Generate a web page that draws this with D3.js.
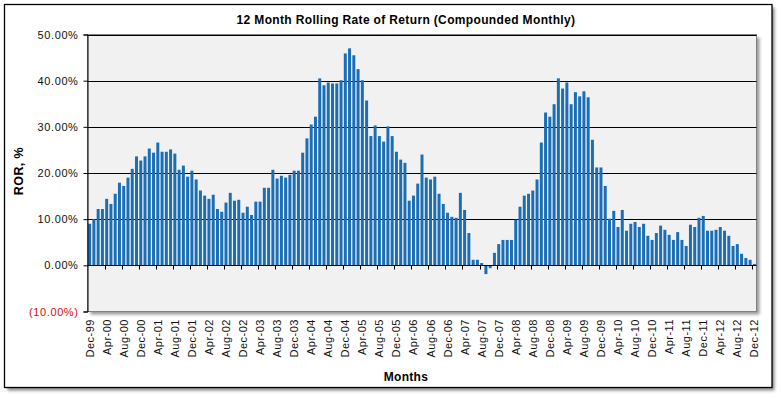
<!DOCTYPE html>
<html>
<head>
<meta charset="utf-8">
<script src="https://cdn.jsdelivr.net/npm/d3@7"></script>
<style>
  body { margin: 0; background: #fff; }
  text { font-family: "Liberation Sans", Arial, sans-serif; }
</style>
</head>
<body>
<div id="chart"></div>
<script>
// 12 month rolling ROR, one bar per month, Dec-99 .. Dec-12

const monthNames = ["Jan","Feb","Mar","Apr","May","Jun","Jul","Aug","Sep","Oct","Nov","Dec"];

// category labels, built from month + 2 digit year
let months = ["Dec-99"];
for (let yr = 0; yr <= 12; yr++) {
    for (let m of monthNames) {
        months.push(m + "-" + String(yr).padStart(2, "0"));
    }
}

const ror = [
    9.0, 10.0, 12.2, 12.2, 14.4, 13.3, 15.5, 17.9, 17.2, 19.0, 20.9, 23.6,
    22.7, 23.6, 25.3, 24.4, 26.6, 24.6, 24.6, 25.1, 24.2, 20.7, 21.6, 19.2,
    20.5, 18.6, 16.2, 15.1, 14.4, 15.3, 12.2, 11.6, 13.6, 15.7, 14.0, 14.2,
    11.4, 12.7, 10.9, 13.8, 13.8, 16.8, 16.8, 20.7, 18.8, 19.4, 19.0, 19.6,
    20.5, 20.5, 24.4, 27.5, 30.5, 32.2, 40.5, 39.0, 39.6, 39.4, 39.4, 40.1,
    45.9, 47.0, 45.5, 42.5, 40.1, 35.7, 28.0, 30.3, 28.0, 26.8, 30.1, 28.0,
    24.6, 22.9, 22.2, 14.0, 15.1, 17.7, 24.0, 19.0, 18.6, 19.2, 15.5, 13.3,
    11.4, 10.5, 10.3, 15.7, 12.0, 7.0, 1.2, 1.2, 0.5, -1.9, -0.6, 2.7,
    4.6, 5.5, 5.5, 5.5, 9.9, 12.7, 15.1, 15.5, 16.2, 18.6, 26.6, 33.1,
    32.2, 34.9, 40.5, 38.3, 39.6, 34.9, 37.5, 36.6, 37.7, 36.4, 27.2, 21.2,
    21.2, 17.2, 10.1, 11.8, 8.3, 12.0, 7.5, 9.0, 9.4, 8.3, 9.0, 6.4,
    5.5, 7.0, 8.6, 7.7, 6.6, 5.5, 7.2, 5.5, 4.2, 8.8, 8.3, 10.3,
    10.7, 7.5, 7.5, 7.7, 8.3, 7.5, 6.4, 4.2, 4.6, 2.5, 1.6, 1.2,
    0.3
];

const yTicks = [-10, 0, 10, 20, 30, 40, 50];

const width = 782, height = 398;
const plot = { left: 87.5, right: 756.5, top: 34.5, bottom: 311.5 };

const svg = d3.select("#chart")
    .append("svg")
    .attr("width", width)
    .attr("height", height);

const defs = svg.append("defs");
defs.append("filter")
    .attr("id", "shadow")
    .attr("x", "-5%").attr("y", "-5%")
    .attr("width", "110%").attr("height", "110%")
    .append("feGaussianBlur")
    .attr("stdDeviation", 1.5);

// outer chart frame with shadow
svg.append("rect")
    .attr("x", 7.5).attr("y", 7.5)
    .attr("width", 767).attr("height", 383)
    .attr("fill", "#8a8a8a")
    .attr("filter", "url(#shadow)");
svg.append("rect")
    .attr("x", 4.5).attr("y", 4.5)
    .attr("width", 767.5).attr("height", 383)
    .attr("fill", "#fff")
    .attr("stroke", "#000")
    .attr("stroke-width", 1.3);

let x = d3.scaleBand()
    .domain(months)
    .range([plot.left, plot.right])
    .paddingInner(0.3)
    .paddingOuter(0.15);

let y = d3.scaleLinear()
    .domain([-10, 50])
    .range([plot.bottom, plot.top]);

// plot area with shadow
svg.append("rect")
    .attr("x", plot.left + 3).attr("y", plot.top + 3)
    .attr("width", plot.right - plot.left).attr("height", plot.bottom - plot.top)
    .attr("fill", "#9a9a9a")
    .attr("filter", "url(#shadow)");
svg.append("rect")
    .attr("x", plot.left).attr("y", plot.top)
    .attr("width", plot.right - plot.left).attr("height", plot.bottom - plot.top)
    .attr("fill", "#f1f1f1")
    .attr("stroke", "#808080")
    .attr("stroke-width", 1);

// gridlines
svg.append("g")
    .selectAll("line")
    .data(yTicks.filter(d => d > 0))
    .join("line")
    .attr("x1", plot.left).attr("x2", plot.right)
    .attr("y1", d => Math.round(y(d)) + 0.5)
    .attr("y2", d => Math.round(y(d)) + 0.5)
    .attr("stroke", "#000")
    .attr("stroke-width", 1);

// bars
svg.append("g")
    .attr("fill", "#1a6eb6")
    .selectAll("rect")
    .data(ror)
    .join("rect")
    .attr("x", (d, i) => x(months[i]))
    .attr("width", x.bandwidth())
    .attr("y", d => y(Math.max(0, d)))
    .attr("height", d => Math.abs(y(d) - y(0)));

// x axis at zero, tick marks between every 4th month
const step = x.step();
const tickIdx = d3.range(4, months.length, 4);
const xAxis = svg.append("g");
xAxis.append("line")
    .attr("x1", plot.left).attr("x2", plot.right)
    .attr("y1", Math.round(y(0)) + 0.5).attr("y2", Math.round(y(0)) + 0.5)
    .attr("stroke", "#000");
xAxis.selectAll("line.tick")
    .data(tickIdx)
    .join("line")
    .attr("class", "tick")
    .attr("x1", i => Math.round(x(months[i]) - step * 0.15) + 0.5)
    .attr("x2", i => Math.round(x(months[i]) - step * 0.15) + 0.5)
    .attr("y1", Math.round(y(0)) + 0.5)
    .attr("y2", Math.round(y(0)) + 4.5)
    .attr("stroke", "#000");

// month labels under the plot
svg.append("g")
    .selectAll("text")
    .data(months.filter((d, i) => i % 4 === 0))
    .join("text")
    .attr("transform", d => `translate(${x(d) + x.bandwidth() / 2 + 4},319) rotate(-90)`)
    .attr("text-anchor", "end")
    .attr("font-size", "11px")
    .attr("letter-spacing", "0.5px")
    .attr("fill", "#111")
    .text(d => d);

// y axis
svg.append("g")
    .attr("transform", `translate(${plot.left},0)`)
    .call(d3.axisLeft(y)
        .tickValues(yTicks)
        .tickSize(4)
        .tickPadding(5)
        .tickFormat(d => d < 0 ? `(${Math.abs(d).toFixed(2)}%)` : d.toFixed(2) + "%"))
    .call(g => g.select(".domain").attr("stroke", "#000"))
    .call(g => g.selectAll(".tick line").attr("stroke", "#000"))
    .call(g => g.selectAll(".tick text")
        .attr("font-family", "Liberation Sans, Arial, sans-serif")
        .attr("font-size", "11px")
        .attr("letter-spacing", "0.6px")
        .attr("fill", d => d < 0 ? "#d01010" : "#111"));

// titles
svg.append("text")
    .attr("x", 406)
    .attr("y", 24)
    .attr("text-anchor", "middle")
    .attr("font-weight", "bold")
    .attr("font-size", "12px")
    .attr("letter-spacing", "0.35px")
    .text("12 Month Rolling Rate of Return (Compounded Monthly)");

svg.append("text")
    .attr("transform", "translate(23,171) rotate(-90)")
    .attr("text-anchor", "middle")
    .attr("font-weight", "bold")
    .attr("font-size", "12.5px")
    .attr("letter-spacing", "0.4px")
    .text("ROR, %");

svg.append("text")
    .attr("x", 406)
    .attr("y", 381)
    .attr("text-anchor", "middle")
    .attr("font-weight", "bold")
    .attr("font-size", "12px")
    .attr("letter-spacing", "0.3px")
    .text("Months");
</script>
</body>
</html>
